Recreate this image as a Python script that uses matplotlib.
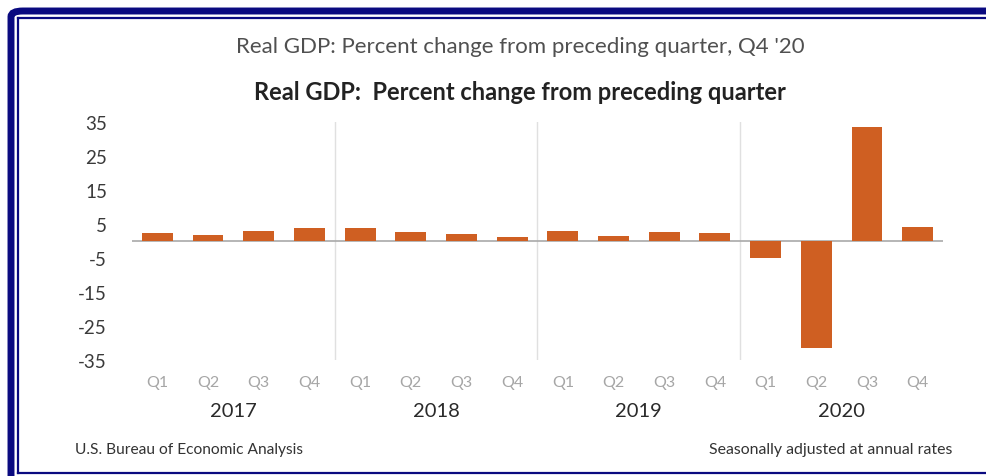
import matplotlib
matplotlib.use('Agg')
import matplotlib.pyplot as plt
from matplotlib.patches import FancyBboxPatch
from matplotlib.lines import Line2D
import numpy as np

# data (BEA advance estimate, Q4 2020)
years = ['2017', '2018', '2019', '2020']
quarters = ['Q1', 'Q2', 'Q3', 'Q4']
gdp_change = [2.3, 1.7, 2.9, 3.9,
              3.8, 2.7, 2.1, 1.3,
              2.9, 1.5, 2.6, 2.4,
              -5.0, -31.4, 33.4, 4.0]
yticks = [35, 25, 15, 5, -5, -15, -25, -35]

bar_color = '#CF5F22'
navy = '#0A0A80'
font = 'Lato'

fig = plt.figure(figsize=(9.87, 4.77), dpi=100)
W, H = 987, 477

def fx(px):
    return px / W

def fy(py):
    return 1 - py / H

# navy frame: thick outer line with rounded corner + thin inner line
fig.patches.append(FancyBboxPatch((fx(11), fy(490)), fx(1000), 490 / H - 12 / H,
                                  boxstyle='round,pad=0,rounding_size=0.012',
                                  transform=fig.transFigure, fill=False,
                                  edgecolor=navy, linewidth=5, zorder=0))
fig.lines.append(Line2D([fx(17.5), fx(17.5)], [fy(18.5), fy(474)], transform=fig.transFigure,
                        color=navy, linewidth=1.6))
fig.lines.append(Line2D([fx(17.5), 1.0], [fy(18.5), fy(18.5)], transform=fig.transFigure,
                        color=navy, linewidth=1.6))
fig.lines.append(Line2D([fx(17.5), 1.0], [fy(474), fy(474)], transform=fig.transFigure,
                        color=navy, linewidth=1.6))

ax = fig.add_axes([fx(132), fy(361), fx(943) - fx(132), (361 - 123) / H])
x = np.arange(len(gdp_change))
ax.bar(x, gdp_change, width=0.61, color=bar_color, zorder=3)
ax.axhline(0, color='#a9a9a9', linewidth=1.2, zorder=2)
for b in [3.5, 7.5, 11.5]:
    ax.axvline(b, color='#e0e0e0', linewidth=1.0, zorder=1)

ax.set_xlim(-0.5, 15.5)
ax.set_ylim(-35, 35)
ax.set_yticks(yticks)
ax.set_yticklabels([str(v) for v in yticks], fontfamily=font, fontsize=13.5, color='#3a3a3a')
ax.tick_params(axis='y', length=0, pad=18)
ax.set_xticks([])
for s in ax.spines.values():
    s.set_visible(False)

# quarter and year labels
for i in range(len(gdp_change)):
    ax.text(i, -41.5, quarters[i % 4], ha='center', va='center', fontfamily=font,
            fontsize=11.5, color='#a6a6a6')
for j, yr in enumerate(years):
    ax.text(4 * j + 1.5, -49.8, yr, ha='center', va='center', fontfamily=font,
            fontsize=14.5, color='#2a2a2a')

fig.text(0.527, fy(47), "Real GDP: Percent change from preceding quarter, Q4 '20",
         ha='center', va='center', fontfamily=font, fontsize=16, color='#505050')
fig.text(0.527, fy(93), 'Real GDP:  Percent change from preceding quarter',
         ha='center', va='center', fontfamily=font, fontsize=17, fontweight='bold',
         color='#222222')
fig.text(fx(75), fy(450), 'U.S. Bureau of Economic Analysis', ha='left', va='center',
         fontfamily=font, fontsize=11.2, color='#333333')
fig.text(fx(952), fy(450), 'Seasonally adjusted at annual rates', ha='right', va='center',
         fontfamily=font, fontsize=11.4, color='#333333')

fig.savefig('out.png', dpi=100, facecolor='white')
